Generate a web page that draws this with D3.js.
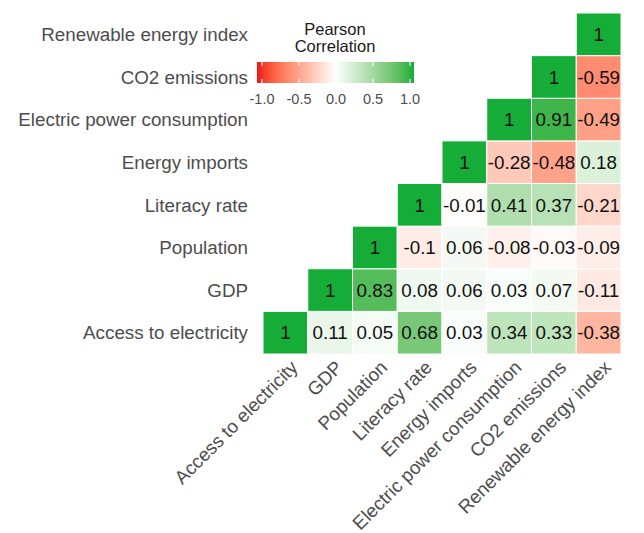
<!DOCTYPE html>
<html>
<head>
<meta charset="utf-8">
<script src="https://cdn.jsdelivr.net/npm/d3@7"></script>
<style>
  body { margin: 0; background: #fff; }
  svg { font-family: "Liberation Sans", Arial, sans-serif; }
</style>
</head>
<body>
<svg></svg>
<script>
// variables, left to right along x (bottom to top along y)
let vars = ['Access to electricity', 'GDP', 'Population', 'Literacy rate',
  'Energy imports', 'Electric power consumption', 'CO2 emissions', 'Renewable energy index']

// correlations of each variable with itself and the ones after it
let accessRow = [1, 0.11, 0.05, 0.68, 0.03, 0.34, 0.33, -0.38]
let gdpRow = [1, 0.83, 0.08, 0.06, 0.03, 0.07, -0.11]
let populationRow = [1, -0.1, 0.06, -0.08, -0.03, -0.09]
let literacyRow = [1, -0.01, 0.41, 0.37, -0.21]
let importsRow = [1, -0.28, -0.48, 0.18]
let powerRow = [1, 0.91, -0.49]
let co2Row = [1, -0.59]
let renewableRow = [1]

let legendTicks = [-1, -0.5, 0, 0.5, 1]

let rows = [accessRow, gdpRow, populationRow, literacyRow, importsRow, powerRow, co2Row, renewableRow]

// flatten into cells
let cells = []
rows.forEach(function(r, i) {
  r.forEach(function(v, k) {
    cells.push({row: vars[i], col: vars[i + k], value: v})
  })
})

let svg = d3.select('svg').attr('width', 644).attr('height', 533)

let x = d3.scaleBand().domain(vars).range([263, 621])
let y = d3.scaleBand().domain(vars.slice().reverse()).range([13, 354])

let lowCol = '#f01414'
let highCol = '#15ad37'
let color = function(v) {
  if (v < 0) return d3.interpolateLab('#ffffff', lowCol)(-v)
  return d3.interpolateLab('#ffffff', highCol)(v)
}

let fs = 18.8

// tiles
svg.selectAll('rect.cell')
  .data(cells)
  .enter().append('rect')
  .attr('class', 'cell')
  .attr('x', function(d) { return x(d.col) })
  .attr('y', function(d) { return y(d.row) })
  .attr('width', x.bandwidth())
  .attr('height', y.bandwidth())
  .attr('fill', function(d) { return color(d.value) })
  .attr('stroke', 'white')
  .attr('stroke-width', 1)

// numbers in tiles
svg.selectAll('text.val')
  .data(cells)
  .enter().append('text')
  .attr('class', 'val')
  .attr('x', function(d) { return x(d.col) + x.bandwidth() / 2 })
  .attr('y', function(d) { return y(d.row) + y.bandwidth() / 2 })
  .attr('dy', '0.36em')
  .attr('text-anchor', 'middle')
  .attr('font-size', fs)
  .attr('fill', '#111')
  .text(function(d) { return d.value })

// y axis labels
svg.selectAll('text.ylab')
  .data(vars)
  .enter().append('text')
  .attr('class', 'ylab')
  .attr('x', 248)
  .attr('y', function(d) { return y(d) + y.bandwidth() / 2 })
  .attr('dy', '0.36em')
  .attr('text-anchor', 'end')
  .attr('font-size', fs)
  .attr('fill', '#4d4d4d')
  .text(function(d) { return d })

// x axis labels, rotated 45
svg.selectAll('text.xlab')
  .data(vars)
  .enter().append('text')
  .attr('class', 'xlab')
  .attr('transform', function(d) {
    return 'translate(' + (x(d) + x.bandwidth() / 2 + 4) + ',359) rotate(-45)'
  })
  .attr('dy', '0.72em')
  .attr('text-anchor', 'end')
  .attr('font-size', fs)
  .attr('fill', '#4d4d4d')
  .text(function(d) { return d })

// legend
let legend = svg.append('g')
let lx = d3.scaleLinear().domain([-1, 1]).range([262, 410])

let grad = svg.append('defs').append('linearGradient')
  .attr('id', 'corrgrad')
  .attr('x1', '0%').attr('x2', '100%')
d3.range(0, 1.0001, 0.05).forEach(function(t) {
  grad.append('stop')
    .attr('offset', (t * 100) + '%')
    .attr('stop-color', color(t * 2 - 1))
})

legend.append('rect')
  .attr('x', 257).attr('y', 62)
  .attr('width', 157).attr('height', 21)
  .attr('fill', 'url(#corrgrad)')

legend.selectAll('line.tk')
  .data(legendTicks)
  .enter().append('g')
  .each(function(d) {
    let g = d3.select(this)
    g.append('line')
      .attr('x1', lx(d)).attr('x2', lx(d))
      .attr('y1', 62).attr('y2', 66)
      .attr('stroke', 'white').attr('stroke-width', 1)
    g.append('line')
      .attr('x1', lx(d)).attr('x2', lx(d))
      .attr('y1', 79).attr('y2', 83)
      .attr('stroke', 'white').attr('stroke-width', 1)
  })

legend.selectAll('text.tl')
  .data(legendTicks)
  .enter().append('text')
  .attr('x', function(d) { return lx(d) })
  .attr('y', 104)
  .attr('text-anchor', 'middle')
  .attr('font-size', 14.5)
  .attr('fill', '#4d4d4d')
  .text(function(d) { return d.toFixed(1) })

legend.selectAll('text.title')
  .data(['Pearson', 'Correlation'])
  .enter().append('text')
  .attr('x', 335)
  .attr('y', function(d, i) { return 35 + i * 17 })
  .attr('text-anchor', 'middle')
  .attr('font-size', 16.5)
  .attr('fill', '#1a1a1a')
  .text(function(d) { return d })
</script>
</body>
</html>
